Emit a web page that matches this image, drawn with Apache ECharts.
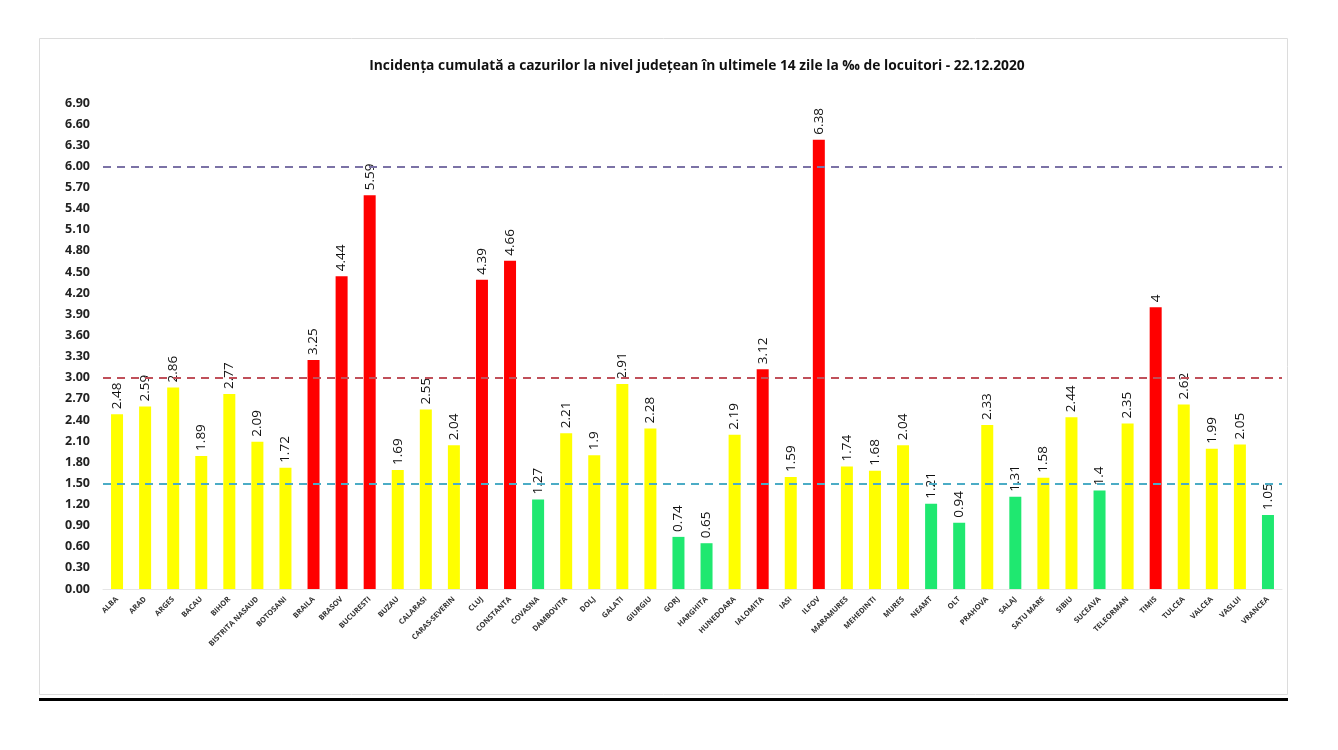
<!DOCTYPE html>
<html><head><meta charset="utf-8">
<script src="https://cdn.jsdelivr.net/npm/echarts@6/dist/echarts.min.js"></script>
<style>html,body{margin:0;padding:0;background:#fff}#c{width:1338px;height:750px}</style>
</head><body><div id="c"></div>
<script>
const categories = ['ALBA','ARAD','ARGES','BACAU','BIHOR','BISTRITA NASAUD','BOTOSANI','BRAILA','BRASOV','BUCURESTI','BUZAU','CALARASI','CARAS-SEVERIN','CLUJ','CONSTANTA','COVASNA','DAMBOVITA','DOLJ','GALATI','GIURGIU','GORJ','HARGHITA','HUNEDOARA','IALOMITA','IASI','ILFOV','MARAMURES','MEHEDINTI','MURES','NEAMT','OLT','PRAHOVA','SALAJ','SATU MARE','SIBIU','SUCEAVA','TELEORMAN','TIMIS','TULCEA','VALCEA','VASLUI','VRANCEA'];
const values = [2.48,2.59,2.86,1.89,2.77,2.09,1.72,3.25,4.44,5.59,1.69,2.55,2.04,4.39,4.66,1.27,2.21,1.9,2.91,2.28,0.74,0.65,2.19,3.12,1.59,6.38,1.74,1.68,2.04,1.21,0.94,2.33,1.31,1.58,2.44,1.4,2.35,4,2.62,1.99,2.05,1.05];
const thresholds = [1.5, 3, 6];
const titleText = 'Incidența cumulată a cazurilor la nivel județean în ultimele 14 zile la ‰ de locuitori - 22.12.2020';

function barColor(v){ return v > 3 ? '#FF0000' : (v >= 1.5 ? '#FFFF00' : '#1FE870'); }

const chart = echarts.init(document.getElementById('c'));
chart.setOption({
  backgroundColor:'#fff',
  animation:false,
  title:{text:titleText,left:692,top:54,textAlign:'center',
    textStyle:{fontFamily:'Open Sans',fontSize:13.8,fontWeight:'bold',color:'#111'}},
  graphic:[
    {type:'rect',shape:{x:39.5,y:38.5,width:1248,height:656},style:{fill:'none',stroke:'#dcdcdc',lineWidth:1},z:-1},
    {type:'rect',shape:{x:39,y:698,width:1249,height:3},style:{fill:'#000'}}
  ],
  grid:{left:103,right:56,top:103,bottom:161},
  xAxis:{type:'category',data:categories,
    axisLine:{show:true,lineStyle:{color:'#e6e6e6',width:1}},
    axisTick:{show:false},
    axisLabel:{interval:0,rotate:45,fontSize:7.5,fontWeight:'bold',color:'#333',fontFamily:'Open Sans',margin:9}},
  yAxis:{type:'value',min:0,max:6.9,interval:0.3,
    axisLine:{show:false},axisTick:{show:false},splitLine:{show:false},
    axisLabel:{formatter:v=>v.toFixed(2),fontSize:12.5,fontWeight:'bold',color:'#222',fontFamily:'Open Sans',margin:13}},
  series:[{type:'bar',data:values.map(v=>({value:v,itemStyle:{color:barColor(v)}})),
    barWidth:12,
    label:{show:true,position:'top',rotate:90,distance:5,align:'left',verticalAlign:'middle',
      fontSize:13.5,color:'#111',fontFamily:'Open Sans',formatter:p=>String(p.value)},
    markLine:{silent:true,symbol:'none',z:10,label:{show:false},
      data:[
        {yAxis:thresholds[2],lineStyle:{color:'#7B72A6',type:[8,6],width:2}},
        {yAxis:thresholds[1],lineStyle:{color:'#C0505A',type:[8,6],width:2}},
        {yAxis:thresholds[0],lineStyle:{color:'#4BACC6',type:[8,6],width:2}}
      ]}
  }]
});
</script></body></html>
